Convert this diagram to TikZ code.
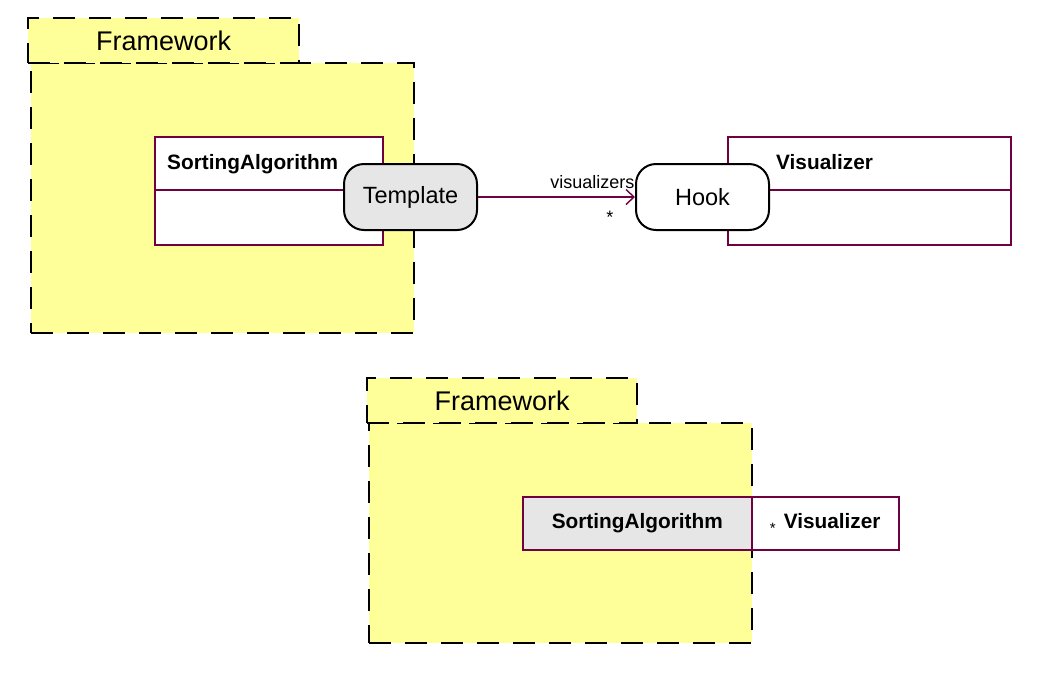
\documentclass[tikz,border=0pt]{standalone}
\usepackage{fontspec}
\setmainfont{Liberation Sans}
\usetikzlibrary{positioning,arrows.meta}

\definecolor{pkgyellow}{RGB}{255,255,153}
\definecolor{umlborder}{RGB}{112,0,64}
\definecolor{rolegray}{RGB}{230,230,230}

\tikzset{
  pkgdash/.style={draw=black, line width=2.4pt, dash pattern=on 22pt off 14pt, fill=pkgyellow, anchor=north west, inner sep=0pt},
  pkgtab/.style={pkgdash, font=\fontsize{27}{30}\selectfont},
  classbox/.style={draw=umlborder, line width=1.5pt, fill=white, anchor=north west, inner sep=0pt},
  classname/.style={font=\bfseries\fontsize{20.8}{24}\selectfont, anchor=base west, inner sep=0pt},
  role/.style={draw=black, line width=2pt, rounded corners=20pt, fill=white, minimum width=133pt, minimum height=66pt, inner sep=0pt, font=\fontsize{23.5}{26}\selectfont},
  assoc/.style={draw=umlborder, line width=1.4pt, -{Straight Barb[length=8pt,width=15pt,line width=1.4pt]}},
  mult/.style={font=\fontsize{18}{20}\selectfont, inner sep=0pt},
}

\begin{document}
\begin{tikzpicture}[x=1pt, y=-1pt]

    % Fix the page to the size of the reference
    \useasboundingbox (0,0) rectangle (1056,673);

    % Upper package: Framework with the template class
    \node[pkgdash, minimum width=383pt, minimum height=270pt] (fwbody) at (30,62) {};
    \node[pkgtab, minimum width=271pt, minimum height=45pt] (fwtab) at (27,17) {Framework};

    % Class SortingAlgorithm and its separator
    \node[classbox, minimum width=228pt, minimum height=108pt] (sortcls) at (154,136) {};
    \draw[umlborder, line width=2pt] ([yshift=-54pt]sortcls.north west) -- ([yshift=-54pt]sortcls.north east);
    \node[classname] (sortname) at (167,169) {SortingAlgorithm};

    % Class Visualizer and its separator
    \node[classbox, minimum width=283pt, minimum height=108pt] (viscls) at (727,136) {};
    \draw[umlborder, line width=2pt] ([yshift=-54pt]viscls.north west) -- ([yshift=-54pt]viscls.north east);
    \node[classname] (visname) at (776,169) {Visualizer};

    % Roles of the pattern
    \node[role, fill=rolegray] (template) at (410.5,197) {Template};
    \node[role] (hook) at (702.5,197) {Hook};

    % Association from the template to the hook
    \draw[assoc] (template) -- (hook)
        node[pos=1, anchor=base east, mult, yshift=9pt] (rolename) {visualizers}
        node[pos=1, anchor=base east, mult, xshift=-21pt, yshift=-26pt] (hookmult) {*};

    % Lower package: Framework with the collapsed classes
    \node[pkgdash, minimum width=383pt, minimum height=220pt] (fwbodyb) at (368,422) {};
    \node[pkgtab, minimum width=270pt, minimum height=45pt] (fwtabb) at (366,377) {Framework};

    \node[classbox, fill=rolegray, minimum width=229pt, minimum height=53pt,
          font=\bfseries\fontsize{20.8}{24}\selectfont] (sortclsb) at (522,496) {SortingAlgorithm};
    \node[classbox, anchor=west, minimum width=147pt, minimum height=53pt,
          font=\bfseries\fontsize{20.8}{24}\selectfont, right=-1.5pt of sortclsb]
          (visclsb) {\raisebox{-5pt}{\mdseries\fontsize{15}{16}\selectfont *}\hspace{8pt}Visualizer\hspace{12pt}};

\end{tikzpicture}
\end{document}
